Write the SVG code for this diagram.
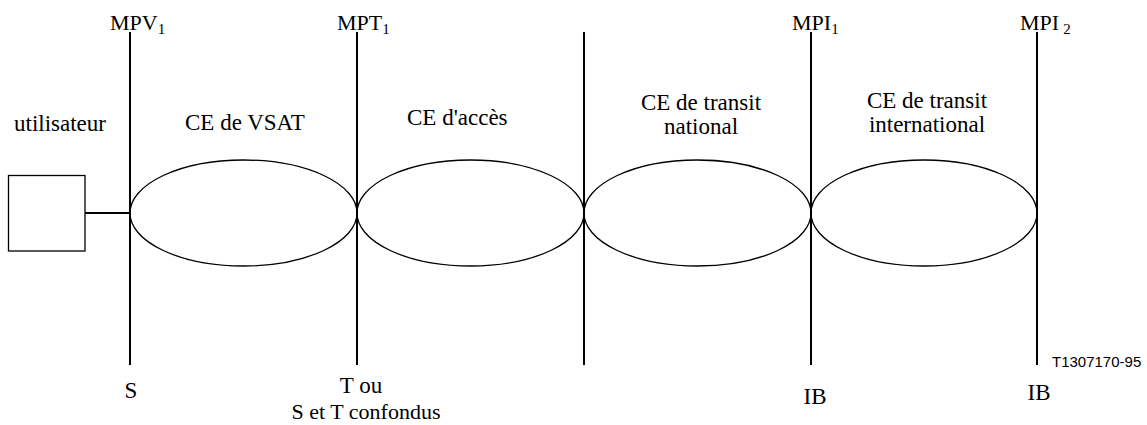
<svg xmlns="http://www.w3.org/2000/svg" width="1147" height="425" viewBox="0 0 1147 425">
<style>
.t{font-family:"Liberation Serif","Times New Roman",serif;font-size:23px;fill:#000}
.h{font-size:22px}
.s{font-size:15px}
.c{text-anchor:middle}
.ln{stroke:#000;stroke-width:2;fill:none}
.el{stroke:#000;stroke-width:1.3;fill:none}
.f{font-family:"Liberation Sans",Arial,sans-serif;font-size:15px;fill:#000}
</style>
<rect width="1147" height="425" fill="#fff"/>
<g id="connectors">
<line class="ln" x1="130" y1="32" x2="130" y2="365"/>
<line class="ln" x1="357" y1="32" x2="357" y2="365"/>
<line class="ln" x1="584" y1="32" x2="584" y2="365"/>
<line class="ln" x1="811" y1="32" x2="811" y2="365"/>
<line class="ln" x1="1037" y1="32" x2="1037" y2="365"/>
<line class="ln" x1="85" y1="213" x2="130" y2="213"/>
</g>
<g id="user">
<rect x="8.5" y="175.5" width="76.5" height="75.5" fill="none" stroke="#000" stroke-width="1.3"/>
<text class="t" x="14" y="131">utilisateur</text>
</g>
<g id="ce-vsat">
<ellipse class="el" cx="243.5" cy="213" rx="113.5" ry="53"/>
<text class="t" x="185" y="130">CE de VSAT</text>
</g>
<g id="ce-acces">
<ellipse class="el" cx="470.5" cy="213" rx="113.5" ry="53"/>
<text class="t" x="407" y="125">CE d'accès</text>
</g>
<g id="ce-national">
<ellipse class="el" cx="697.5" cy="213" rx="113.5" ry="53"/>
<text class="t c" x="701" y="110">CE de transit</text>
<text class="t c" x="701" y="134">national</text>
</g>
<g id="ce-international">
<ellipse class="el" cx="924" cy="213" rx="113" ry="53"/>
<text class="t c" x="927" y="108">CE de transit</text>
<text class="t c" x="927" y="132">international</text>
</g>
<g id="mpv1"><text class="t h" x="110" y="30">MPV<tspan class="s" dy="4">1</tspan></text></g>
<g id="mpt1"><text class="t h" x="337" y="30">MPT<tspan class="s" dy="4">1</tspan></text></g>
<g id="mpi1"><text class="t h" x="792" y="30">MPI<tspan class="s" dy="4">1</tspan></text></g>
<g id="mpi2"><text class="t h" x="1020" y="30">MPI<tspan class="s" dx="4" dy="4">2</tspan></text></g>
<g id="s"><text class="t c" x="131" y="398">S</text></g>
<g id="t"><text class="t c" x="361" y="393">T ou</text><text class="t c" x="366" y="419" style="font-size:22px">S et T confondus</text></g>
<g id="ib1"><text class="t c" x="815" y="404">IB</text></g>
<g id="ib2"><text class="t c" x="1039" y="400">IB</text></g>
<text class="f" x="1052" y="367">T1307170-95</text>
</svg>
